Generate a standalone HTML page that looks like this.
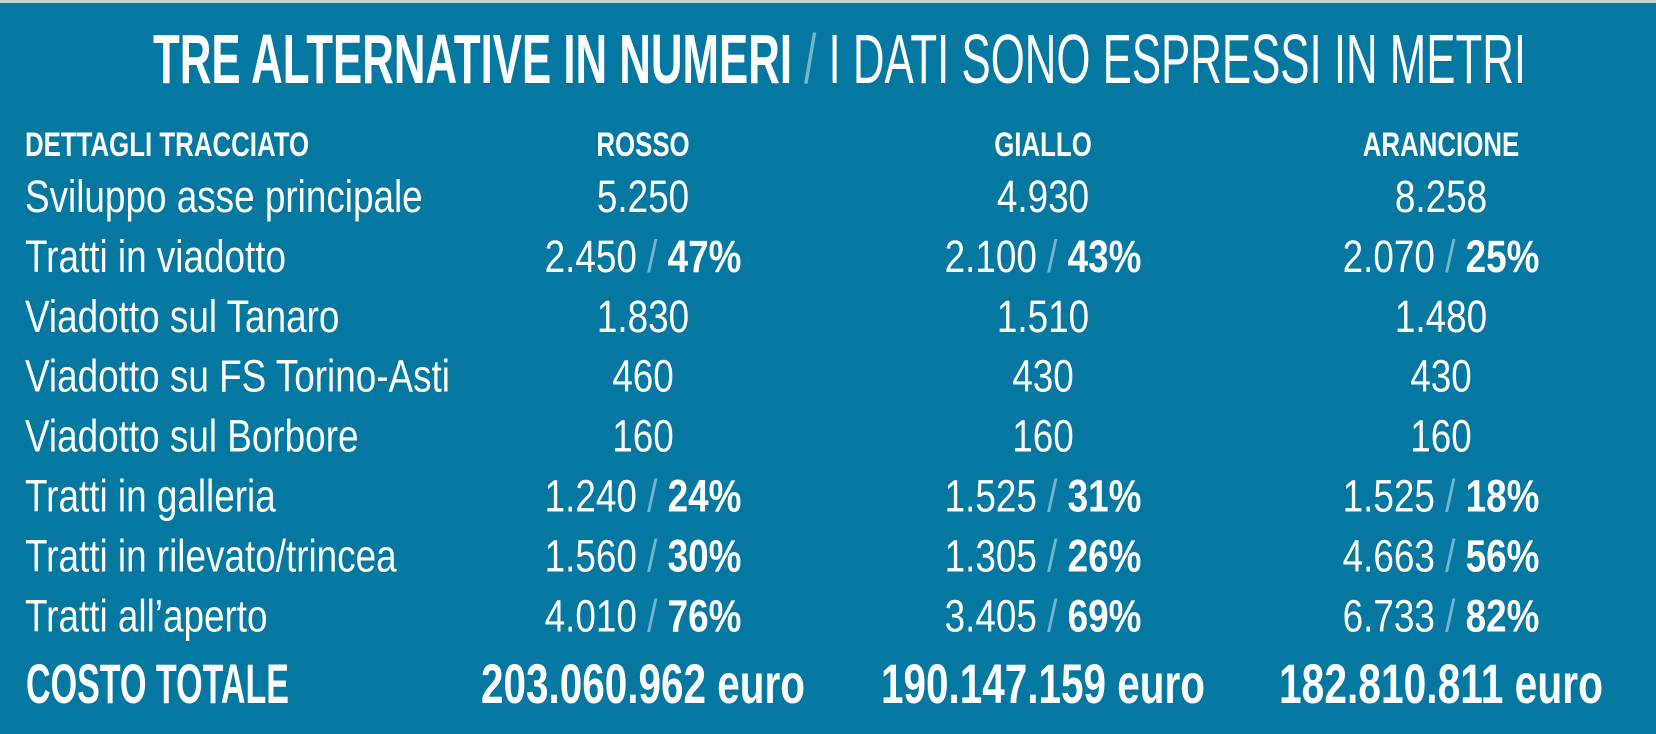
<!DOCTYPE html>
<html><head><meta charset="utf-8"><style>
html,body{margin:0;padding:0;background:#0578a2;}
svg{display:block;font-family:"Liberation Sans",sans-serif;}
</style></head><body>
<svg id="t" width="1656" height="734" viewBox="0 0 1656 734">
<rect x="0" y="0" width="1656" height="734" fill="#0578a2"/>
<rect x="0" y="0" width="1656" height="3" fill="#c9cfd3"/>
<text x="153" y="83" font-size="70" fill="#fff" textLength="1373" lengthAdjust="spacingAndGlyphs"><tspan font-weight="bold">TRE ALTERNATIVE IN NUMERI</tspan><tspan fill="rgba(255,255,255,0.45)"> / </tspan><tspan>I DATI SONO ESPRESSI IN METRI</tspan></text>
<g id="body"></g>
</svg>
<script>
var headers=["DETTAGLI TRACCIATO","ROSSO","GIALLO","ARANCIONE"];
var labels=["Sviluppo asse principale","Tratti in viadotto","Viadotto sul Tanaro","Viadotto su FS Torino-Asti","Viadotto sul Borbore","Tratti in galleria","Tratti in rilevato/trincea","Tratti all’aperto"];
var rosso=["5.250","2.450|47%","1.830","460","160","1.240|24%","1.560|30%","4.010|76%"];
var giallo=["4.930","2.100|43%","1.510","430","160","1.525|31%","1.305|26%","3.405|69%"];
var arancione=["8.258","2.070|25%","1.480","430","160","1.525|18%","4.663|56%","6.733|82%"];
var totals=["203.060.962 euro","190.147.159 euro","182.810.811 euro"];
var cols=[rosso,giallo,arancione];
var cx=[643,1043,1441];
var NS="http://www.w3.org/2000/svg";
var body=document.getElementById('body');
function txt(parent,x,y,size,weight,anchor,s){
  var t=document.createElementNS(NS,'text');
  t.setAttribute('x',x);t.setAttribute('y',y);t.setAttribute('font-size',size);
  t.setAttribute('font-weight',weight);t.setAttribute('fill','#fff');t.setAttribute('text-anchor',anchor);
  if(s!==null)t.textContent=s;
  parent.appendChild(t);return t;
}
function grp(x,sx){
  var g=document.createElementNS(NS,'g');
  g.setAttribute('transform','translate('+x+',0) scale('+sx+',1)');
  body.appendChild(g);return g;
}
var g=grp(25,0.76);
var h=txt(g,0,156,34,'bold','start',headers[0]);


for(var c=0;c<3;c++){
  g=grp(cx[c],0.76);
  h=txt(g,0,156,34,'bold','middle',headers[c+1]);
  
  
}
for(var r=0;r<labels.length;r++){
  var y=212+r*59.9;
  g=grp(25,0.82);
  var l=txt(g,0,y,45,'normal','start',labels[r]);
  
  
  for(var c=0;c<3;c++){
    g=grp(cx[c],0.82);
    var parts=cols[c][r].split('|');
    var v=txt(g,0,y,45,'normal','middle',null);
    
    
    var s1=document.createElementNS(NS,'tspan');s1.textContent=parts[0];v.appendChild(s1);
    if(parts.length>1){
      var s2=document.createElementNS(NS,'tspan');s2.textContent=' / ';s2.setAttribute('fill','rgba(255,255,255,0.45)');v.appendChild(s2);
      var s3=document.createElementNS(NS,'tspan');s3.textContent=parts[1];s3.setAttribute('font-weight','bold');v.appendChild(s3);
    }
  }
}
var tl=txt(body,26,703,56,'bold','start','COSTO TOTALE');
tl.setAttribute('textLength','263');tl.setAttribute('lengthAdjust','spacingAndGlyphs');


for(var c=0;c<3;c++){
  var tv=txt(body,cx[c]-162,703,56,'bold','start',totals[c]);
  tv.setAttribute('textLength','324');tv.setAttribute('lengthAdjust','spacingAndGlyphs');
  
  
}
</script>
</body></html>
